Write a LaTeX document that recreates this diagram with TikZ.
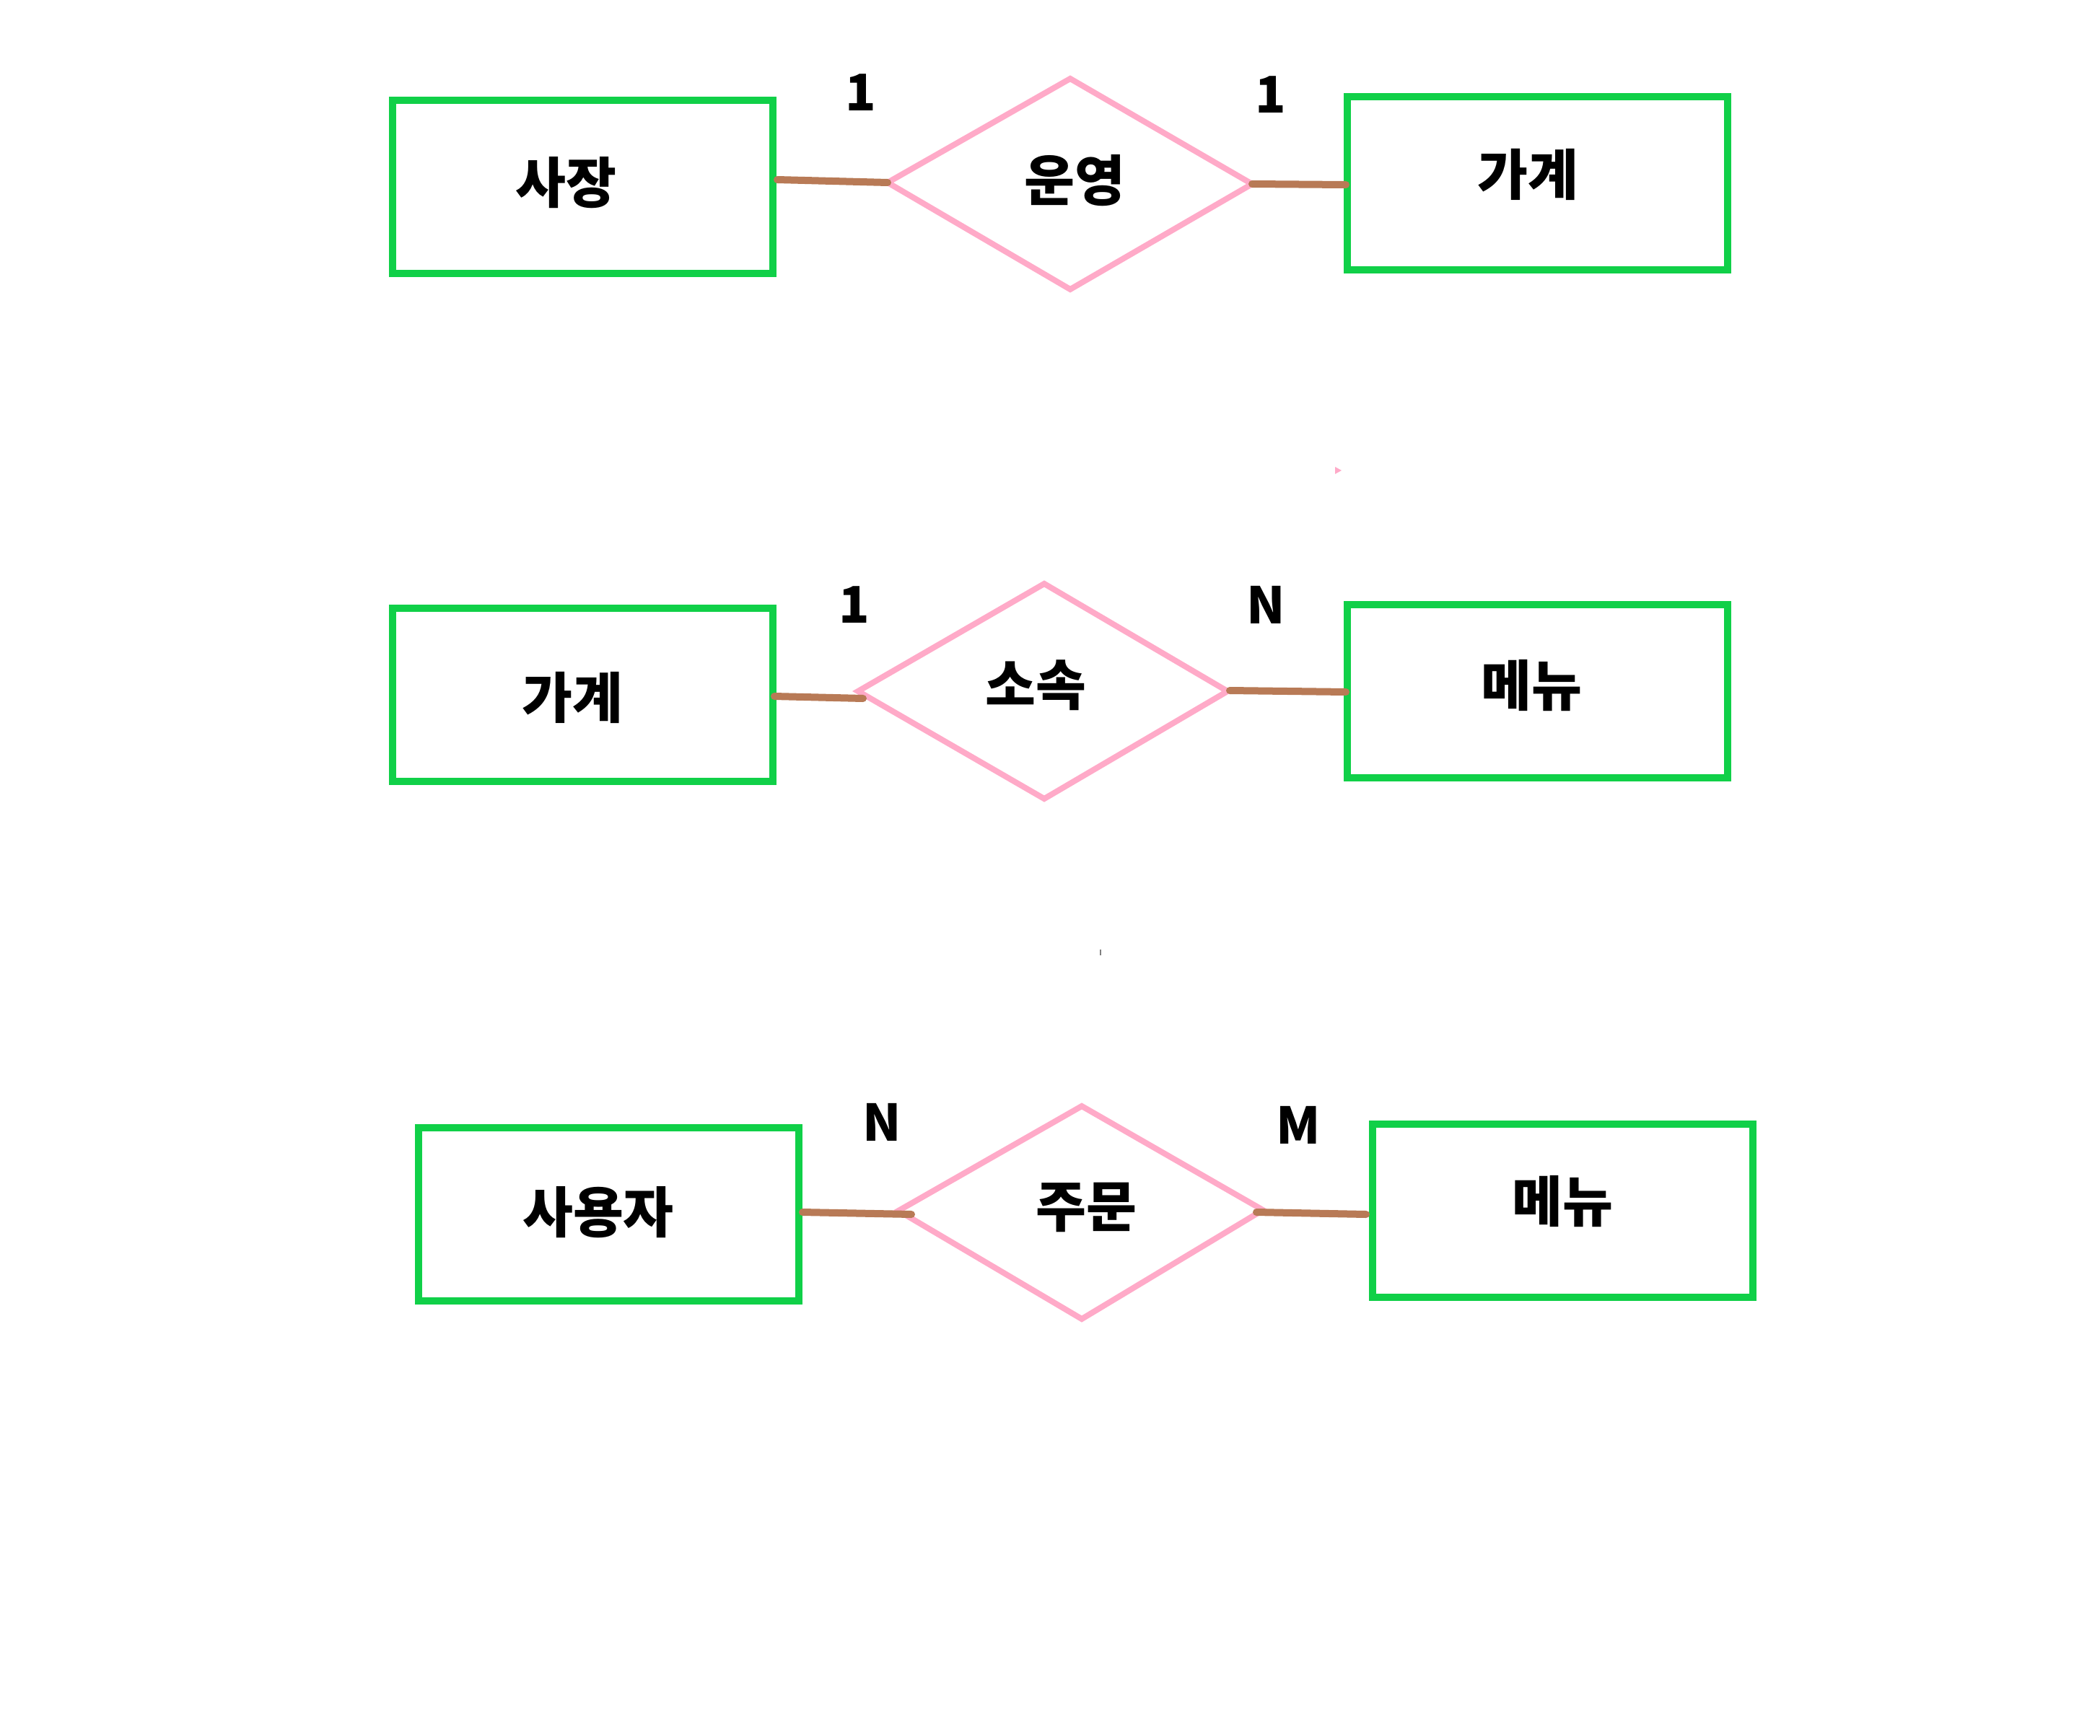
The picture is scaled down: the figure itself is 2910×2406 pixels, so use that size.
\documentclass[tikz,border=0pt]{standalone}
\usepackage{fontspec}
\newfontfamily\kr{Noto Sans CJK KR}
\definecolor{entgreen}{RGB}{16,208,72}
\definecolor{relpink}{RGB}{255,170,200}
\definecolor{linkbrown}{RGB}{184,122,86}
\tikzset{
  entity/.style={draw=entgreen, line width=10pt, minimum width=527pt, minimum height=240pt, inner sep=0pt},
  reltext/.style={font=\kr\bfseries\fontsize{76}{86}\selectfont, inner sep=0pt},
  enttext/.style={font=\kr\bfseries\fontsize{76}{86}\selectfont, inner sep=0pt},
  cardtext/.style={font=\kr\bfseries\fontsize{70}{80}\selectfont, inner sep=0pt},
  relshape/.style={draw=relpink, line width=8pt, line join=miter},
  link/.style={draw=linkbrown, line width=10pt, line cap=round}
}
\begin{document}
\begin{tikzpicture}[x=1pt,y=-1pt]
\useasboundingbox[fill=white] (0,0) rectangle (2910,2406);

% ---------- Row 1 ----------
\node[entity] (a1) at (807.5,259) {};
\node[enttext] (a1t) at (784,253) {사장};
\coordinate (d1l) at (1230,253);
\coordinate (d1t) at (1483,109);
\coordinate (d1r) at (1735,255);
\coordinate (d1b) at (1483,401);
\draw[relshape] (d1l) -- (d1t) -- (d1r) -- (d1b) -- cycle;
\node[reltext] (d1x) at (1489,250) {운영};
\node[entity] (b1) at (2130,254) {};
\node[enttext] (b1t) at (2117,242) {가계};
\coordinate (a1e) at (1077,249);
\coordinate (b1w) at (1865,256);
\draw[link] (a1e) -- (d1l);
\draw[link] (d1r) -- (b1w);
\node[cardtext] (c1a) at (1193,128) {1};
\node[cardtext] (c1b) at (1761,131) {1};

% ---------- Row 2 ----------
\node[entity] (a2) at (807.5,963) {};
\node[enttext] (a2t) at (793,967) {가계};
\coordinate (d2l) at (1189,958);
\coordinate (d2t) at (1447,809);
\coordinate (d2r) at (1701,958);
\coordinate (d2b) at (1447,1107);
\draw[relshape] (d2l) -- (d2t) -- (d2r) -- (d2b) -- cycle;
\node[reltext] (d2x) at (1435,950) {소속};
\node[entity] (b2) at (2130,958) {};
\node[enttext] (b2t) at (2122,950) {메뉴};
\coordinate (a2e) at (1073,965);
\coordinate (d2lc) at (1196,968);
\coordinate (d2rc) at (1704,957);
\coordinate (b2w) at (1865,959);
\draw[link] (a2e) -- (d2lc);
\draw[link] (d2rc) -- (b2w);
\node[cardtext] (c2a) at (1184,838) {1};
\node[cardtext] (c2b) at (1754,838) {N};

% ---------- Row 3 ----------
\node[entity] (a3) at (843.5,1683) {};
\node[enttext] (a3t) at (829,1680) {사용자};
\coordinate (d3l) at (1245,1678);
\coordinate (d3t) at (1499,1533);
\coordinate (d3r) at (1750,1677);
\coordinate (d3b) at (1499,1828);
\draw[relshape] (d3l) -- (d3t) -- (d3r) -- (d3b) -- cycle;
\node[reltext] (d3x) at (1505,1673) {주문};
\node[entity] (b3) at (2165.5,1678) {};
\node[enttext] (b3t) at (2165,1665) {메뉴};
\coordinate (a3e) at (1112,1680);
\coordinate (d3lc) at (1263,1683);
\coordinate (d3rc) at (1741,1680);
\coordinate (b3w) at (1893,1683);
\draw[link] (a3e) -- (d3lc);
\draw[link] (d3rc) -- (b3w);
\node[cardtext] (c3a) at (1222,1555) {N};
\node[cardtext] (c3b) at (1799,1559) {M};

% ---------- small stray marks ----------
\fill[relpink] (1850,647) -- (1859,652) -- (1850,657) -- cycle;
\fill[gray] (1523.5,1316) rectangle (1525.5,1324);
\end{tikzpicture}
\end{document}
